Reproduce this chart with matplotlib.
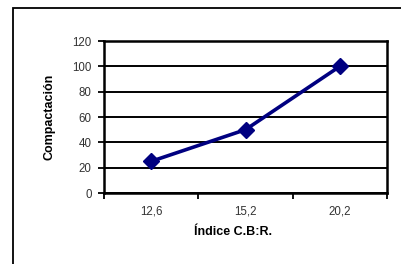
import matplotlib
matplotlib.use('Agg')
import matplotlib.pyplot as plt
from matplotlib.patches import Rectangle

categories = ['12,6', '15,2', '20,2']
compactacion = [25, 50, 100]
yticks = [0, 20, 40, 60, 80, 100, 120]

plt.rcParams['font.family'] = ['Liberation Sans', 'DejaVu Sans']

fig = plt.figure(figsize=(4.01, 2.64), dpi=100)
# outer chart frame (extends past right/bottom edges)
fig.patches.append(Rectangle((13 / 401, -0.1), 1.2, (264 - 8) / 264 + 0.1,
                             transform=fig.transFigure, fill=False,
                             edgecolor='black', linewidth=1.3))

ax = fig.add_axes([104 / 401, 1 - 193 / 264, (387 - 104) / 401, (193 - 41) / 264])
x = list(range(len(categories)))
ax.plot(x, compactacion, color='#000080', linewidth=2.6, marker='D',
        markersize=8, markerfacecolor='#000080', markeredgecolor='#000080', zorder=3)

ax.set_xlim(-0.5, len(categories) - 0.5)
ax.set_ylim(0, 120)
ax.set_yticks(yticks)
ax.set_yticklabels([str(v) for v in yticks], fontsize=8.3, color='#333333')
ax.set_xticks(x)
ax.set_xticklabels(categories, fontsize=8.3, color='#333333')
ax.tick_params(axis='x', length=0, pad=9)
ax.set_xticks([-0.5, 0.5, 1.5, 2.5], minor=True)
ax.tick_params(axis='x', which='minor', length=4, width=1.3, direction='out')
ax.tick_params(axis='y', length=4, width=1.3, direction='out', pad=5)
ax.yaxis.grid(True, color='black', linewidth=1.4)
ax.set_axisbelow(True)
for s in ax.spines.values():
    s.set_linewidth(1.8)

ax.set_xlabel('Índice C.B:R.', fontsize=9, fontweight='bold', labelpad=7)
ax.xaxis.set_label_coords(0.455, -0.22)
ax.set_ylabel('Compactación', fontsize=9, fontweight='bold', labelpad=12)

fig.savefig('out.png', dpi=100)
